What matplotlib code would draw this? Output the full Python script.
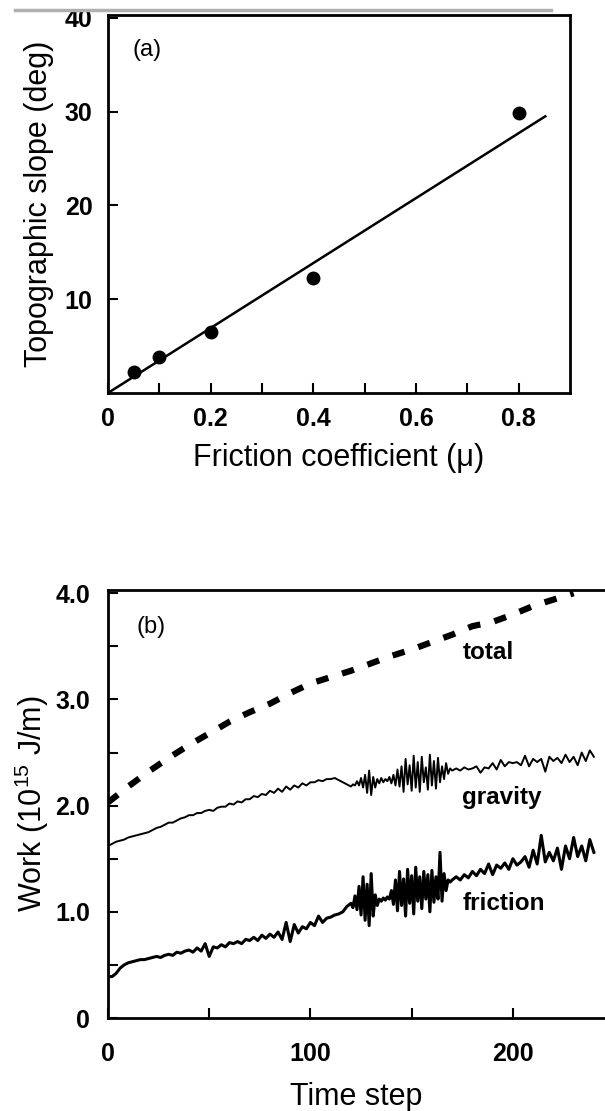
import matplotlib.pyplot as plt
import numpy as np
from matplotlib.lines import Line2D

plt.rcParams['font.family'] = ['Liberation Sans', 'DejaVu Sans']
plt.rcParams['mathtext.default'] = 'regular'

# (a) slope vs friction
mu = [0.05, 0.1, 0.2, 0.4, 0.8]
slope = [2.2, 3.8, 6.5, 12.3, 29.8]
fit_mu = [0.0, 0.852]
fit_slope = [0.0, 29.5]

# (b) work vs time step (finer sampling inside the noisy stretch)
t_steps = list(range(0, 120, 2)) + list(range(120, 170)) + list(range(170, 241, 2))
gravity = [1.62, 1.64, 1.66, 1.67, 1.68, 1.70, 1.71, 1.72, 1.73, 1.74,
           1.75, 1.77, 1.79, 1.80, 1.82, 1.84, 1.84, 1.86, 1.88, 1.89,
           1.91, 1.91, 1.93, 1.93, 1.95, 1.96, 1.95, 1.98, 1.99, 1.99,
           2.02, 2.01, 2.04, 2.03, 2.06, 2.06, 2.09, 2.08, 2.11, 2.10,
           2.14, 2.12, 2.16, 2.13, 2.18, 2.15, 2.19, 2.17, 2.21, 2.19,
           2.22, 2.22, 2.24, 2.23, 2.25, 2.25, 2.26, 2.24, 2.22, 2.20,
           2.18, 2.20, 2.19, 2.23, 2.19, 2.26, 2.17, 2.29, 2.12, 2.33,
           2.10, 2.27, 2.17, 2.25, 2.21, 2.26, 2.22, 2.25, 2.23, 2.27,
           2.21, 2.29, 2.19, 2.34, 2.18, 2.37, 2.13, 2.44, 2.20, 2.38,
           2.14, 2.47, 2.17, 2.41, 2.13, 2.46, 2.22, 2.36, 2.15, 2.48,
           2.19, 2.42, 2.16, 2.45, 2.22, 2.37, 2.25, 2.40, 2.30, 2.35,
           2.33, 2.35, 2.33, 2.36, 2.34, 2.35, 2.37, 2.31, 2.36, 2.35,
           2.40, 2.34, 2.43, 2.37, 2.41, 2.40, 2.41, 2.38, 2.47, 2.37,
           2.44, 2.41, 2.44, 2.32, 2.46, 2.42, 2.45, 2.40, 2.48, 2.41,
           2.46, 2.38, 2.50, 2.42, 2.52, 2.46]
friction = [0.39, 0.39, 0.42, 0.47, 0.50, 0.52, 0.53, 0.54, 0.55, 0.55,
            0.56, 0.57, 0.58, 0.57, 0.59, 0.60, 0.59, 0.62, 0.61, 0.63,
            0.64, 0.62, 0.66, 0.63, 0.70, 0.58, 0.67, 0.66, 0.69, 0.67,
            0.71, 0.70, 0.72, 0.70, 0.74, 0.73, 0.76, 0.73, 0.78, 0.75,
            0.79, 0.76, 0.81, 0.74, 0.90, 0.72, 0.88, 0.80, 0.86, 0.84,
            0.90, 0.87, 0.96, 0.90, 0.94, 0.95, 0.97, 0.98, 1.00, 1.05,
            1.08, 1.04, 1.15, 1.02, 1.24, 0.97, 1.33, 0.92, 1.26, 0.87,
            1.36, 0.96, 1.16, 1.06, 1.12, 1.10, 1.13, 1.11, 1.14, 1.12,
            1.20, 1.07, 1.30, 1.01, 1.38, 1.06, 1.31, 0.96, 1.40, 1.08,
            1.34, 0.98, 1.42, 1.10, 1.33, 1.03, 1.38, 1.12, 1.35, 1.00,
            1.39, 1.09, 1.33, 1.12, 1.56, 1.10, 1.36, 1.20, 1.30, 1.28,
            1.30, 1.33, 1.30, 1.35, 1.32, 1.38, 1.34, 1.40, 1.36, 1.45,
            1.35, 1.44, 1.41, 1.46, 1.40, 1.50, 1.44, 1.47, 1.52, 1.42,
            1.58, 1.45, 1.72, 1.47, 1.56, 1.48, 1.60, 1.40, 1.62, 1.50,
            1.70, 1.52, 1.62, 1.48, 1.68, 1.56]
t_total = list(range(0, 231, 10))
total = [2.03, 2.18, 2.32, 2.45, 2.57, 2.68, 2.79, 2.88, 2.96, 3.06,
         3.15, 3.21, 3.27, 3.34, 3.41, 3.47, 3.54, 3.61, 3.69, 3.73,
         3.80, 3.88, 3.94, 4.00]

fig = plt.figure(figsize=(6.05, 11.11), dpi=100)

# panel (a)
ax1 = fig.add_axes([0.1785, 0.6463, 0.7636, 0.3402])
ax1.plot(fit_mu, fit_slope, color='black', lw=1.8)
ax1.plot(mu, slope, 'o', color='black', ms=9)
ax1.set_xlim(0, 0.9)
ax1.set_ylim(0, 40.3)
ax1.set_xticks([0, 0.2, 0.4, 0.6, 0.8])
ax1.set_xticklabels(['0', '0.2', '0.4', '0.6', '0.8'])
ax1.set_xticks([0.1, 0.3, 0.5, 0.7], minor=True)
ax1.set_yticks([10, 20, 30, 40])
ax1.set_xlabel('Friction coefficient (\u03bc)', fontsize=22, labelpad=9)
ax1.set_ylabel('Topographic slope (deg)', fontsize=22, labelpad=8)
ax1.text(0.047, 36.6, '(a)', fontsize=17, va='center')
ax1.tick_params(axis='x', which='major', pad=10)
ax1.tick_params(axis='y', which='major', pad=11)

# panel (b)
ax2 = fig.add_axes([0.1785, 0.0837, 0.8215, 0.3852])
ax2.plot(t_total, total, color='black', lw=4.5, dashes=(2.0, 2.3))
ax2.plot(t_steps, gravity, color='black', lw=1.4)
ax2.plot(t_steps, friction, color='black', lw=2.2)
ax2.set_xlim(0, 245.5)
ax2.set_ylim(0, 4.03)
ax2.set_xticks([0, 100, 200])
ax2.set_xticks([50, 150], minor=True)
ax2.set_yticks([0, 1, 2, 3, 4])
ax2.set_yticklabels(['0', '1.0', '2.0', '3.0', '4.0'])
ax2.set_yticks([0.5, 1.5, 2.5, 3.5], minor=True)
ax2.set_xlabel('Time step', fontsize=22, labelpad=12)
ax2.set_ylabel('Work (10$^{15}$ J/m)', fontsize=22, labelpad=3)
ax2.spines['right'].set_visible(False)
ax2.text(14, 3.68, '(b)', fontsize=17, va='center')
ax2.text(175, 3.44, 'total', fontsize=17.5, fontweight='bold', va='center')
ax2.text(175, 2.08, 'gravity', fontsize=17.5, fontweight='bold', va='center')
ax2.text(175, 1.08, 'friction', fontsize=17.5, fontweight='bold', va='center')
ax2.tick_params(axis='x', which='major', pad=17)
ax2.tick_params(axis='y', which='major', pad=13)

for ax in (ax1, ax2):
    for s in ax.spines.values():
        s.set_linewidth(2)
    ax.tick_params(which='both', direction='in', width=1.5, labelsize=18)
    ax.tick_params(which='major', length=7)
    ax.tick_params(which='minor', length=7)
    for lab in ax.get_xticklabels() + ax.get_yticklabels():
        lab.set_fontweight('bold')

# scan artifact line at the top
fig.add_artist(Line2D([0.025, 0.91], [0.991, 0.991], color='#b0b0b0', lw=2.5))

fig.savefig('out.png', dpi=100)
